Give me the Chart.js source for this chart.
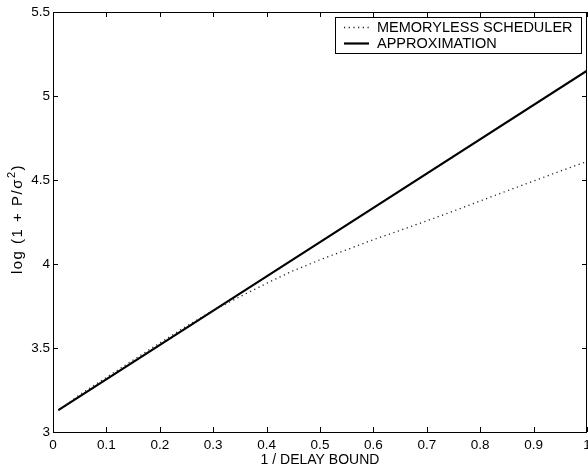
<!DOCTYPE html>
<html>
<head>
<meta charset="utf-8">
<script src="https://cdn.jsdelivr.net/npm/chart.js@4/dist/chart.umd.min.js"></script>
<style>
  html, body { margin: 0; padding: 0; background: #fff; overflow: hidden; }
  #wrap { width: 600px; height: 468px; }
</style>
</head>
<body>
<div id="wrap"><canvas id="chart"></canvas></div>
<script>
// x = 1 / delay bound
const xMemoryless = [0.01, 0.05, 0.1, 0.15, 0.2, 0.25, 0.3, 0.35, 0.4, 0.45, 0.5,
                     0.55, 0.6, 0.65, 0.7, 0.75, 0.8, 0.85, 0.9, 0.95, 1.0];
const yMemoryless = [3.13, 3.222, 3.325, 3.428, 3.53, 3.63, 3.724, 3.805, 3.885, 3.96, 4.025,
                     4.085, 4.145, 4.20, 4.257, 4.315, 4.375, 4.435, 4.494, 4.553, 4.61];
const xApprox = [0.01, 0.5, 1.0];
const yApprox = [3.13, 4.13, 5.15];

const seriesLabels = ['MEMORYLESS SCHEDULER', 'APPROXIMATION'];
const xTitle = '1 / DELAY BOUND';
// y title: log (1 + P/σ^2)
const yTitleParts = ['log (1 + P/\u03C3', '2', ')'];

const FONT = 'Liberation Sans, Arial, Helvetica, sans-serif';

function toPoints(xs, ys) {
  return xs.map((x, i) => ({ x: x, y: ys[i] }));
}

// frame box, inward tick marks on all four sides, y title with superscript, boxed legend
const framePlugin = {
  id: 'frame',
  afterDraw(chart) {
    const ctx = chart.ctx;
    const a = chart.chartArea;
    const xs = chart.scales.x, ys = chart.scales.y;
    const tl = 5;
    ctx.save();
    ctx.strokeStyle = '#000';
    ctx.lineWidth = 1;
    ctx.strokeRect(Math.round(a.left) + 0.5, Math.round(a.top) + 0.5,
                   Math.round(a.right - a.left) - 1, Math.round(a.bottom - a.top));
    ctx.beginPath();
    xs.ticks.forEach(t => {
      const px = Math.round(xs.getPixelForValue(t.value)) + 0.5;
      ctx.moveTo(px, a.bottom); ctx.lineTo(px, a.bottom - tl);
      ctx.moveTo(px, a.top); ctx.lineTo(px, a.top + tl);
    });
    ys.ticks.forEach(t => {
      const py = Math.round(ys.getPixelForValue(t.value)) + 0.5;
      ctx.moveTo(a.left, py); ctx.lineTo(a.left + tl, py);
      ctx.moveTo(a.right, py); ctx.lineTo(a.right - tl, py);
    });
    ctx.stroke();

    // y axis title, rotated, with superscript 2
    ctx.save();
    ctx.fillStyle = '#000';
    ctx.translate(18, (a.top + a.bottom) / 2 - 3);
    ctx.rotate(-Math.PI / 2);
    ctx.textBaseline = 'middle';
    ctx.textAlign = 'left';
    if ('letterSpacing' in ctx) ctx.letterSpacing = '1.5px';
    const mainFont = '15px ' + FONT, supFont = '11px ' + FONT;
    ctx.font = mainFont;
    const w0 = ctx.measureText(yTitleParts[0]).width;
    const w2 = ctx.measureText(yTitleParts[2]).width;
    ctx.font = supFont;
    const w1 = ctx.measureText(yTitleParts[1]).width;
    let tx = -(w0 + w1 + w2) / 2;
    ctx.font = mainFont;
    ctx.fillText(yTitleParts[0], tx, 0);
    tx += w0;
    ctx.font = supFont;
    ctx.fillText(yTitleParts[1], tx, -6);
    tx += w1;
    ctx.font = mainFont;
    ctx.fillText(yTitleParts[2], tx, 0);
    ctx.restore();

    // legend
    ctx.font = '14.5px ' + FONT;
    const sets = chart.data.datasets;
    const textW = Math.max(...sets.map(d => ctx.measureText(d.label).width));
    const boxW = Math.round(42 + textW + 8);
    const boxH = 36;
    const bx = Math.round(a.right - 6 - boxW);
    const by = Math.round(a.top + 5);
    ctx.fillStyle = '#fff';
    ctx.fillRect(bx, by, boxW, boxH);
    ctx.strokeRect(bx + 0.5, by + 0.5, boxW, boxH);
    sets.forEach((d, i) => {
      const cy = by + 10 + i * 16;
      ctx.save();
      ctx.strokeStyle = d.borderColor;
      ctx.lineWidth = d.borderWidth;
      ctx.setLineDash(d.borderDash || []);
      ctx.beginPath();
      ctx.moveTo(bx + 9, cy + 0.5);
      ctx.lineTo(bx + 34, cy + 0.5);
      ctx.stroke();
      ctx.restore();
      ctx.fillStyle = '#000';
      ctx.textBaseline = 'middle';
      ctx.textAlign = 'left';
      ctx.fillText(d.label, bx + 42, cy + 1);
    });
    ctx.restore();
  }
};

function zeroPad(scale) {
  scale.paddingLeft = 0; scale.paddingRight = 0;
  scale.paddingTop = 0; scale.paddingBottom = 0;
}

Chart.defaults.font.family = FONT;
Chart.defaults.font.size = 13.5;
Chart.defaults.color = '#000';

new Chart(document.getElementById('chart'), {
  type: 'line',
  data: {
    datasets: [
      {
        label: seriesLabels[0],
        data: toPoints(xMemoryless, yMemoryless),
        borderColor: '#222',
        borderWidth: 1.3,
        borderDash: [1.2, 3.5],
        pointRadius: 0,
        tension: 0,
        fill: false
      },
      {
        label: seriesLabels[1],
        data: toPoints(xApprox, yApprox),
        borderColor: '#000',
        borderWidth: 2.2,
        pointRadius: 0,
        tension: 0,
        fill: false
      }
    ]
  },
  options: {
    responsive: true,
    maintainAspectRatio: false,
    animation: false,
    layout: { padding: { left: 0, right: 13, top: 12, bottom: 0 } },
    plugins: {
      legend: { display: false },
      tooltip: { enabled: false }
    },
    scales: {
      x: {
        type: 'linear',
        min: 0,
        max: 1,
        grid: { display: false, drawTicks: false },
        border: { display: false },
        ticks: {
          stepSize: 0.1, padding: 5, maxRotation: 0, autoSkip: false,
          callback: v => String(Math.round(v * 10) / 10)
        },
        title: { display: true, text: xTitle, font: { size: 14 }, padding: { top: 0, bottom: -1 } },
        afterFit(scale) { scale.height = 36; zeroPad(scale); }
      },
      y: {
        type: 'linear',
        min: 3,
        max: 5.5,
        grid: { display: false, drawTicks: false },
        border: { display: false },
        ticks: {
          stepSize: 0.5, padding: 3,
          callback: v => String(Math.round(v * 10) / 10)
        },
        title: { display: false },
        afterFit(scale) { scale.width = 53; zeroPad(scale); }
      }
    }
  },
  plugins: [framePlugin]
});
</script>
</body>
</html>
